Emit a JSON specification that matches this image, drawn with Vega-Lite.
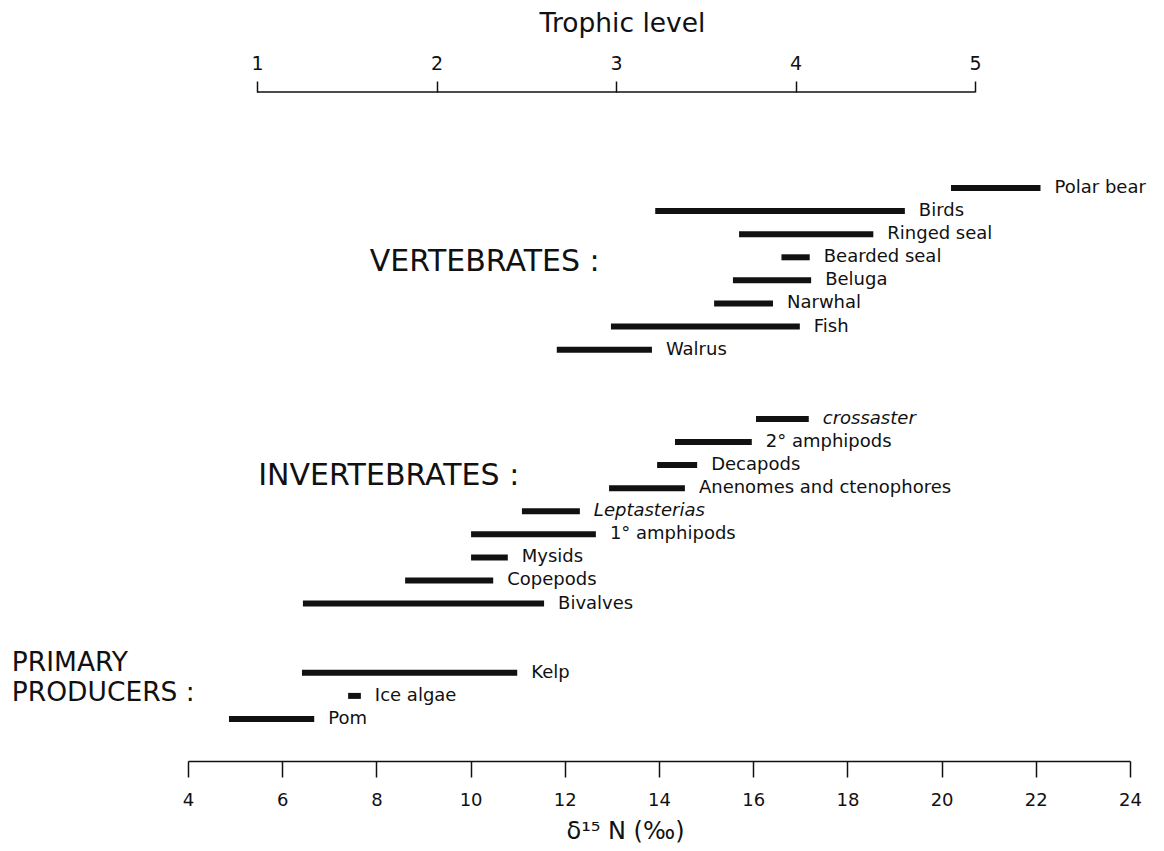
{
  "$schema": "https://vega.github.io/schema/vega-lite/v6.json",
  "width": 942,
  "height": 669,
  "autosize": {"type": "none"},
  "padding": {"left": 188, "top": 92, "right": 34, "bottom": 90},
  "background": "white",
  "config": {"view": {"stroke": null}, "font": "DejaVu Sans", "axis": {"grid": false}},
  "datasets": {
    "bars": [
      {"name": "Polar bear", "lo": 20.2, "hi": 22.1, "row": 1, "it": false},
      {"name": "Birds", "lo": 13.92, "hi": 19.22, "row": 2, "it": false},
      {"name": "Ringed seal", "lo": 15.7, "hi": 18.55, "row": 3, "it": false},
      {"name": "Bearded seal", "lo": 16.6, "hi": 17.2, "row": 4, "it": false},
      {"name": "Beluga", "lo": 15.57, "hi": 17.23, "row": 5, "it": false},
      {"name": "Narwhal", "lo": 15.17, "hi": 16.42, "row": 6, "it": false},
      {"name": "Fish", "lo": 12.98, "hi": 16.99, "row": 7, "it": false},
      {"name": "Walrus", "lo": 11.83, "hi": 13.85, "row": 8, "it": false},
      {"name": "crossaster", "lo": 16.06, "hi": 17.18, "row": 11, "it": true},
      {"name": "2° amphipods", "lo": 14.34, "hi": 15.97, "row": 12, "it": false},
      {"name": "Decapods", "lo": 13.96, "hi": 14.81, "row": 13, "it": false},
      {"name": "Anenomes and ctenophores", "lo": 12.94, "hi": 14.55, "row": 14, "it": false},
      {"name": "Leptasterias", "lo": 11.09, "hi": 12.32, "row": 15, "it": true},
      {"name": "1° amphipods", "lo": 10.01, "hi": 12.66, "row": 16, "it": false},
      {"name": "Mysids", "lo": 10.01, "hi": 10.79, "row": 17, "it": false},
      {"name": "Copepods", "lo": 8.61, "hi": 10.48, "row": 18, "it": false},
      {"name": "Bivalves", "lo": 6.44, "hi": 11.56, "row": 19, "it": false},
      {"name": "Kelp", "lo": 6.42, "hi": 10.99, "row": 22, "it": false},
      {"name": "Ice algae", "lo": 7.4, "hi": 7.67, "row": 23, "it": false},
      {"name": "Pom", "lo": 4.87, "hi": 6.68, "row": 24, "it": false}
    ],
    "groups": [
      {"label": "VERTEBRATES :", "x": 7.86, "row": 4.2, "big": true},
      {"label": "INVERTEBRATES :", "x": 5.49, "row": 13.47, "big": true},
      {"label": "PRIMARY", "x": 0.26, "row": 21.57, "big": false},
      {"label": "PRODUCERS :", "x": 0.26, "row": 22.87, "big": false}
    ],
    "trophic": [
      {"tl": 1, "tl2": 5, "row": -3.16}
    ]
  },
  "layer": [
    {
      "layer": [
        {
          "data": {"name": "bars"},
          "mark": {"type": "rule", "strokeWidth": 6, "color": "#111", "strokeCap": "butt"},
          "encoding": {
            "x": {
              "field": "lo", "type": "quantitative",
              "scale": {"domain": [4, 24], "nice": false, "zero": false},
              "axis": {
                "orient": "bottom", "values": [4, 6, 8, 10, 12, 14, 16, 18, 20, 22, 24],
                "title": "δ¹⁵ N (‰)", "titleFontSize": 24, "titleFontWeight": "normal", "titleColor": "#111",
                "titleX": 437, "titlePadding": 10, "labelFontSize": 18, "labelColor": "#111", "labelPadding": 14,
                "tickSize": 16, "tickColor": "#111", "tickWidth": 1.5, "domainColor": "#111", "domainWidth": 1.5,
                "labelFlush": false, "grid": false
              }
            },
            "x2": {"field": "hi"},
            "y": {"field": "row", "type": "quantitative", "scale": {"domain": [-3.16, 25.82], "reverse": true, "nice": false, "zero": false}, "axis": null}
          }
        },
        {
          "data": {"name": "bars"},
          "transform": [{"filter": "!datum.it"}],
          "mark": {"type": "text", "align": "left", "baseline": "middle", "dx": 14, "fontSize": 18, "color": "#111"},
          "encoding": {
            "x": {"field": "hi", "type": "quantitative"},
            "y": {"field": "row", "type": "quantitative", "axis": null},
            "text": {"field": "name"}
          }
        },
        {
          "data": {"name": "bars"},
          "transform": [{"filter": "datum.it"}],
          "mark": {"type": "text", "align": "left", "baseline": "middle", "dx": 14, "fontSize": 18, "fontStyle": "italic", "color": "#111"},
          "encoding": {
            "x": {"field": "hi", "type": "quantitative"},
            "y": {"field": "row", "type": "quantitative", "axis": null},
            "text": {"field": "name"}
          }
        },
        {
          "data": {"name": "groups"},
          "transform": [{"filter": "datum.big"}],
          "mark": {"type": "text", "align": "left", "baseline": "middle", "fontSize": 30, "color": "#111"},
          "encoding": {
            "x": {"field": "x", "type": "quantitative"},
            "y": {"field": "row", "type": "quantitative", "axis": null},
            "text": {"field": "label"}
          }
        },
        {
          "data": {"name": "groups"},
          "transform": [{"filter": "!datum.big"}],
          "mark": {"type": "text", "align": "left", "baseline": "middle", "fontSize": 26.5, "color": "#111"},
          "encoding": {
            "x": {"field": "x", "type": "quantitative"},
            "y": {"field": "row", "type": "quantitative", "axis": null},
            "text": {"field": "label"}
          }
        }
      ]
    },
    {
      "data": {"name": "trophic"},
      "mark": {"type": "rule", "strokeWidth": 1.5, "color": "#111"},
      "encoding": {
        "x": {
          "field": "tl", "type": "quantitative",
          "scale": {"domain": [0.6156, 5.863], "nice": false, "zero": false},
          "axis": {
            "orient": "top", "values": [1, 2, 3, 4, 5], "format": "d", "domain": false,
            "title": "Trophic level", "titleFontSize": 26.5, "titleFontWeight": "normal", "titleColor": "#111",
            "titleX": 434, "titlePadding": 17,
            "labelFontSize": 19, "labelColor": "#111", "labelPadding": 8,
            "tickSize": 11, "tickColor": "#111", "tickWidth": 1.5, "labelFlush": false, "grid": false
          }
        },
        "x2": {"field": "tl2"},
        "y": {"field": "row", "type": "quantitative", "axis": null}
      }
    }
  ],
  "resolve": {"scale": {"x": "independent"}, "axis": {"x": "independent"}}
}
